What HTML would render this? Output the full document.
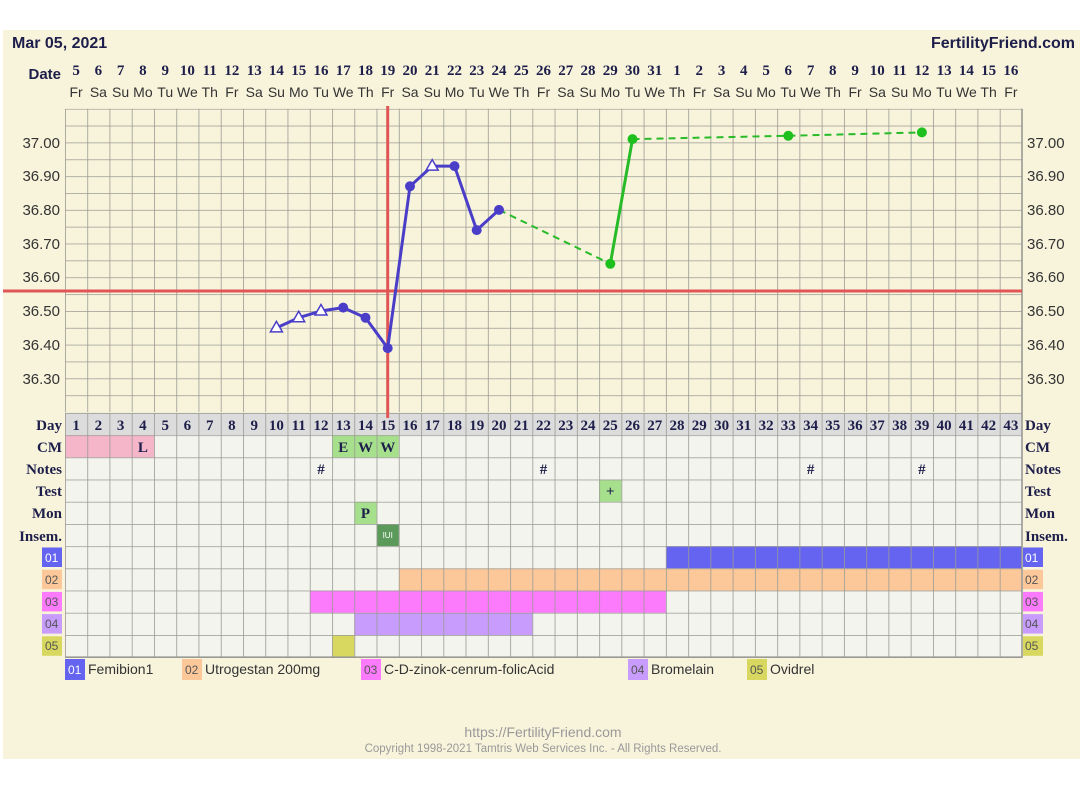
<!DOCTYPE html>
<html><head><meta charset="utf-8"><style>
html,body{margin:0;padding:0;background:#fff;width:1080px;height:803px;overflow:hidden}
svg{display:block}
.sl{font-family:"Liberation Serif","DejaVu Serif",serif;font-weight:bold;fill:#1e1e4a}
.sn{font-family:"Liberation Sans",sans-serif;fill:#333}
</style></head><body>
<svg width="1080" height="803" viewBox="0 0 1080 803" xmlns="http://www.w3.org/2000/svg">
<defs>
<pattern id="gt" patternUnits="userSpaceOnUse" x="65" y="108.8" width="22.256" height="16.85"><path d="M0 0V16.85M0 0H22.256" stroke="#9a9a94" stroke-width="1.6" fill="none"/></pattern>
<pattern id="gl" patternUnits="userSpaceOnUse" x="65" y="413" width="22.256" height="22.2"><path d="M0 0V22.2M0 0H22.256" stroke="#9a9a94" stroke-width="1.6" fill="none"/></pattern>
</defs>
<rect x="3" y="30" width="1077" height="729" fill="#f8f4dc"/>
<text x="12" y="48" class="sn" style="font-weight:bold;fill:#1e1e4a;font-size:16px">Mar 05, 2021</text>
<text x="1075" y="48" text-anchor="end" class="sn" style="font-weight:bold;fill:#1e1e4a;font-size:16px">FertilityFriend.com</text>
<text x="61" y="79" text-anchor="end" class="sn" style="font-weight:bold;fill:#1e1e4a;font-size:15px">Date</text>
<g class="sl" font-size="15" text-anchor="middle">
<text x="76.1" y="75">5</text><text x="98.4" y="75">6</text><text x="120.6" y="75">7</text><text x="142.9" y="75">8</text><text x="165.2" y="75">9</text><text x="187.4" y="75">10</text><text x="209.7" y="75">11</text><text x="231.9" y="75">12</text><text x="254.2" y="75">13</text><text x="276.4" y="75">14</text><text x="298.7" y="75">15</text><text x="321" y="75">16</text><text x="343.2" y="75">17</text><text x="365.5" y="75">18</text><text x="387.7" y="75">19</text><text x="410" y="75">20</text><text x="432.2" y="75">21</text><text x="454.5" y="75">22</text><text x="476.7" y="75">23</text><text x="499" y="75">24</text><text x="521.3" y="75">25</text><text x="543.5" y="75">26</text><text x="565.8" y="75">27</text><text x="588" y="75">28</text><text x="610.3" y="75">29</text><text x="632.5" y="75">30</text><text x="654.8" y="75">31</text><text x="677" y="75">1</text><text x="699.3" y="75">2</text><text x="721.6" y="75">3</text><text x="743.8" y="75">4</text><text x="766.1" y="75">5</text><text x="788.3" y="75">6</text><text x="810.6" y="75">7</text><text x="832.8" y="75">8</text><text x="855.1" y="75">9</text><text x="877.3" y="75">10</text><text x="899.6" y="75">11</text><text x="921.9" y="75">12</text><text x="944.1" y="75">13</text><text x="966.4" y="75">14</text><text x="988.6" y="75">15</text><text x="1010.9" y="75">16</text>
</g>
<g class="sn" font-size="14" text-anchor="middle">
<text x="76.1" y="97">Fr</text><text x="98.4" y="97">Sa</text><text x="120.6" y="97">Su</text><text x="142.9" y="97">Mo</text><text x="165.2" y="97">Tu</text><text x="187.4" y="97">We</text><text x="209.7" y="97">Th</text><text x="231.9" y="97">Fr</text><text x="254.2" y="97">Sa</text><text x="276.4" y="97">Su</text><text x="298.7" y="97">Mo</text><text x="321" y="97">Tu</text><text x="343.2" y="97">We</text><text x="365.5" y="97">Th</text><text x="387.7" y="97">Fr</text><text x="410" y="97">Sa</text><text x="432.2" y="97">Su</text><text x="454.5" y="97">Mo</text><text x="476.7" y="97">Tu</text><text x="499" y="97">We</text><text x="521.3" y="97">Th</text><text x="543.5" y="97">Fr</text><text x="565.8" y="97">Sa</text><text x="588" y="97">Su</text><text x="610.3" y="97">Mo</text><text x="632.5" y="97">Tu</text><text x="654.8" y="97">We</text><text x="677" y="97">Th</text><text x="699.3" y="97">Fr</text><text x="721.6" y="97">Sa</text><text x="743.8" y="97">Su</text><text x="766.1" y="97">Mo</text><text x="788.3" y="97">Tu</text><text x="810.6" y="97">We</text><text x="832.8" y="97">Th</text><text x="855.1" y="97">Fr</text><text x="877.3" y="97">Sa</text><text x="899.6" y="97">Su</text><text x="921.9" y="97">Mo</text><text x="944.1" y="97">Tu</text><text x="966.4" y="97">We</text><text x="988.6" y="97">Th</text><text x="1010.9" y="97">Fr</text>
</g>
<!-- temp grid -->
<rect x="65" y="108.8" width="957" height="303.3" fill="url(#gt)"/>
<path d="M1022 108.8V413" stroke="#9a9a94" stroke-width="1.6"/>
<g class="sn" font-size="15">
<g text-anchor="end"><text x="60" y="148">37.00</text><text x="60" y="181">36.90</text><text x="60" y="215">36.80</text><text x="60" y="249">36.70</text><text x="60" y="282">36.60</text><text x="60" y="316">36.50</text><text x="60" y="350">36.40</text><text x="60" y="384">36.30</text></g>
<text x="1027" y="148">37.00</text><text x="1027" y="181">36.90</text><text x="1027" y="215">36.80</text><text x="1027" y="249">36.70</text><text x="1027" y="282">36.60</text><text x="1027" y="316">36.50</text><text x="1027" y="350">36.40</text><text x="1027" y="384">36.30</text>
</g>
<!-- lower table -->
<rect x="65" y="413" width="957" height="22.2" fill="#dcdcdc"/>
<rect x="65" y="435.2" width="957" height="222" fill="#f4f4ee"/>
<g stroke="none">
<rect x="65" y="435.2" width="89" height="22.2" fill="#f4b6c8"/>
<rect x="332.1" y="435.2" width="66.7" height="22.2" fill="#a6e08c"/>
<rect x="599.1" y="479.6" width="22.3" height="22.2" fill="#a6e08c"/>
<rect x="354.3" y="501.8" width="22.3" height="22.2" fill="#a6e08c"/>
<rect x="376.6" y="524" width="22.3" height="22.2" fill="#5c9a5c"/>
<rect x="665.9" y="546.2" width="356.1" height="22.2" fill="#6464f0"/>
<rect x="398.8" y="568.4" width="623.2" height="22.2" fill="#fcc89a"/>
<rect x="309.8" y="590.6" width="356.1" height="22.2" fill="#fc7afc"/>
<rect x="354.3" y="612.8" width="178.1" height="22.2" fill="#c89cfc"/>
<rect x="332.1" y="635" width="22.3" height="22.2" fill="#d8d860"/>
</g>
<rect x="65" y="413" width="957" height="244.2" fill="url(#gl)"/>
<path d="M1022 413V658M65 657.2H1022" stroke="#9a9a94" stroke-width="1.6"/>
<g class="sl" font-size="15" text-anchor="middle">
<text x="76.1" y="430">1</text><text x="98.4" y="430">2</text><text x="120.6" y="430">3</text><text x="142.9" y="430">4</text><text x="165.2" y="430">5</text><text x="187.4" y="430">6</text><text x="209.7" y="430">7</text><text x="231.9" y="430">8</text><text x="254.2" y="430">9</text><text x="276.4" y="430">10</text><text x="298.7" y="430">11</text><text x="321" y="430">12</text><text x="343.2" y="430">13</text><text x="365.5" y="430">14</text><text x="387.7" y="430">15</text><text x="410" y="430">16</text><text x="432.2" y="430">17</text><text x="454.5" y="430">18</text><text x="476.7" y="430">19</text><text x="499" y="430">20</text><text x="521.3" y="430">21</text><text x="543.5" y="430">22</text><text x="565.8" y="430">23</text><text x="588" y="430">24</text><text x="610.3" y="430">25</text><text x="632.5" y="430">26</text><text x="654.8" y="430">27</text><text x="677" y="430">28</text><text x="699.3" y="430">29</text><text x="721.6" y="430">30</text><text x="743.8" y="430">31</text><text x="766.1" y="430">32</text><text x="788.3" y="430">33</text><text x="810.6" y="430">34</text><text x="832.8" y="430">35</text><text x="855.1" y="430">36</text><text x="877.3" y="430">37</text><text x="899.6" y="430">38</text><text x="921.9" y="430">39</text><text x="944.1" y="430">40</text><text x="966.4" y="430">41</text><text x="988.6" y="430">42</text><text x="1010.9" y="430">43</text>
<text x="142.9" y="452">L</text><text x="343.2" y="452">E</text><text x="365.5" y="452">W</text><text x="387.7" y="452">W</text>
<text x="321" y="474">#</text><text x="543.5" y="474">#</text><text x="810.6" y="474">#</text><text x="921.9" y="474">#</text>
<text x="610.3" y="496">+</text><text x="365.5" y="518">P</text>
</g>
<text x="387.7" y="538" text-anchor="middle" class="sn" font-size="8" style="fill:#fff">IUI</text>
<g class="sl" font-size="15" text-anchor="end">
<text x="62" y="430">Day</text><text x="62" y="452">CM</text><text x="62" y="474">Notes</text><text x="62" y="496">Test</text><text x="62" y="518">Mon</text><text x="62" y="541">Insem.</text>
</g>
<g class="sl" font-size="15">
<text x="1025" y="430">Day</text><text x="1025" y="452">CM</text><text x="1025" y="474">Notes</text><text x="1025" y="496">Test</text><text x="1025" y="518">Mon</text><text x="1025" y="541">Insem.</text>
</g>
<!-- row badges -->
<g>
<rect x="42" y="547.5" width="20" height="19.5" fill="#6464f0"/><rect x="42" y="569.7" width="20" height="19.5" fill="#fcc89a"/><rect x="42" y="591.9" width="20" height="19.5" fill="#fc7afc"/><rect x="42" y="614.1" width="20" height="19.5" fill="#c89cfc"/><rect x="42" y="636.3" width="20" height="19.5" fill="#d8d860"/>
<rect x="1023" y="547.5" width="20" height="19.5" fill="#6464f0"/><rect x="1023" y="569.7" width="20" height="19.5" fill="#fcc89a"/><rect x="1023" y="591.9" width="20" height="19.5" fill="#fc7afc"/><rect x="1023" y="614.1" width="20" height="19.5" fill="#c89cfc"/><rect x="1023" y="636.3" width="20" height="19.5" fill="#d8d860"/>
</g>
<g class="sn" font-size="12">
<text x="45" y="562" style="fill:#fff">01</text><text x="45" y="584" style="fill:#555">02</text><text x="45" y="606" style="fill:#555">03</text><text x="45" y="628" style="fill:#555">04</text><text x="45" y="650" style="fill:#555">05</text>
<text x="1025" y="562" style="fill:#fff">01</text><text x="1025" y="584" style="fill:#555">02</text><text x="1025" y="606" style="fill:#555">03</text><text x="1025" y="628" style="fill:#555">04</text><text x="1025" y="650" style="fill:#555">05</text>
</g>
<!-- legend -->
<g>
<rect x="65" y="659" width="20" height="21" fill="#6464f0"/><rect x="182" y="659" width="20" height="21" fill="#fcc89a"/><rect x="361" y="659" width="20" height="21" fill="#fc7afc"/><rect x="628" y="659" width="20" height="21" fill="#c89cfc"/><rect x="747" y="659" width="20" height="21" fill="#d8d860"/>
</g>
<g class="sn" font-size="12">
<text x="68" y="674" style="fill:#fff">01</text><text x="185" y="674" style="fill:#555">02</text><text x="364" y="674" style="fill:#555">03</text><text x="631" y="674" style="fill:#555">04</text><text x="750" y="674" style="fill:#555">05</text>
</g>
<g class="sn" font-size="14">
<text x="88" y="674">Femibion1</text><text x="205" y="674">Utrogestan 200mg</text><text x="384" y="674">C-D-zinok-cenrum-folicAcid</text><text x="651" y="674">Bromelain</text><text x="770" y="674">Ovidrel</text>
</g>
<text x="543" y="737" text-anchor="middle" class="sn" font-size="14" style="fill:#999">https://FertilityFriend.com</text>
<text x="543" y="752" text-anchor="middle" class="sn" font-size="11.5" style="fill:#999">Copyright 1998-2021 Tamtris Web Services Inc. - All Rights Reserved.</text>
<!-- red lines -->
<path d="M3 291H1022" stroke="#e05656" stroke-width="3"/>
<path d="M387.7 106V418" stroke="#e05656" stroke-width="3"/>
<!-- series -->
<polyline points="276.4,327.9 298.7,317.7 321,311 343.2,307.6 365.5,317.7 387.7,348.1 410,186.3 432.2,166.1 454.5,166.1 476.7,230.1 499,209.9" fill="none" stroke="#4a3ec8" stroke-width="3" stroke-linejoin="round"/>
<path d="M499 209.9L610.3 263.8M632.5 139.1L788.3 135.8L921.9 132.4" fill="none" stroke="#28bb28" stroke-width="2" stroke-dasharray="7,5"/>
<path d="M610.3 263.8L632.5 139.1" fill="none" stroke="#28bb28" stroke-width="3"/>
<g fill="#4a3ec8">
<circle cx="343.2" cy="307.6" r="5"/><circle cx="365.5" cy="317.7" r="5"/><circle cx="387.7" cy="348.1" r="5"/><circle cx="410" cy="186.3" r="5"/><circle cx="454.5" cy="166.1" r="5"/><circle cx="476.7" cy="230.1" r="5"/><circle cx="499" cy="209.9" r="5"/>
</g>
<g fill="#fff" stroke="#4a3ec8" stroke-width="1.5">
<path d="M276.4 321.4L282.4 331.9H270.4Z"/><path d="M298.7 311.2L304.7 321.7H292.7Z"/><path d="M321 304.5L327 315H315Z"/><path d="M432.2 159.6L438.2 170.1H426.2Z"/>
</g>
<g fill="#1ec01e">
<circle cx="610.3" cy="263.8" r="5"/><circle cx="632.5" cy="139.1" r="5"/><circle cx="788.3" cy="135.8" r="5"/><circle cx="921.9" cy="132.4" r="5"/>
</g>
</svg>
</body></html>
